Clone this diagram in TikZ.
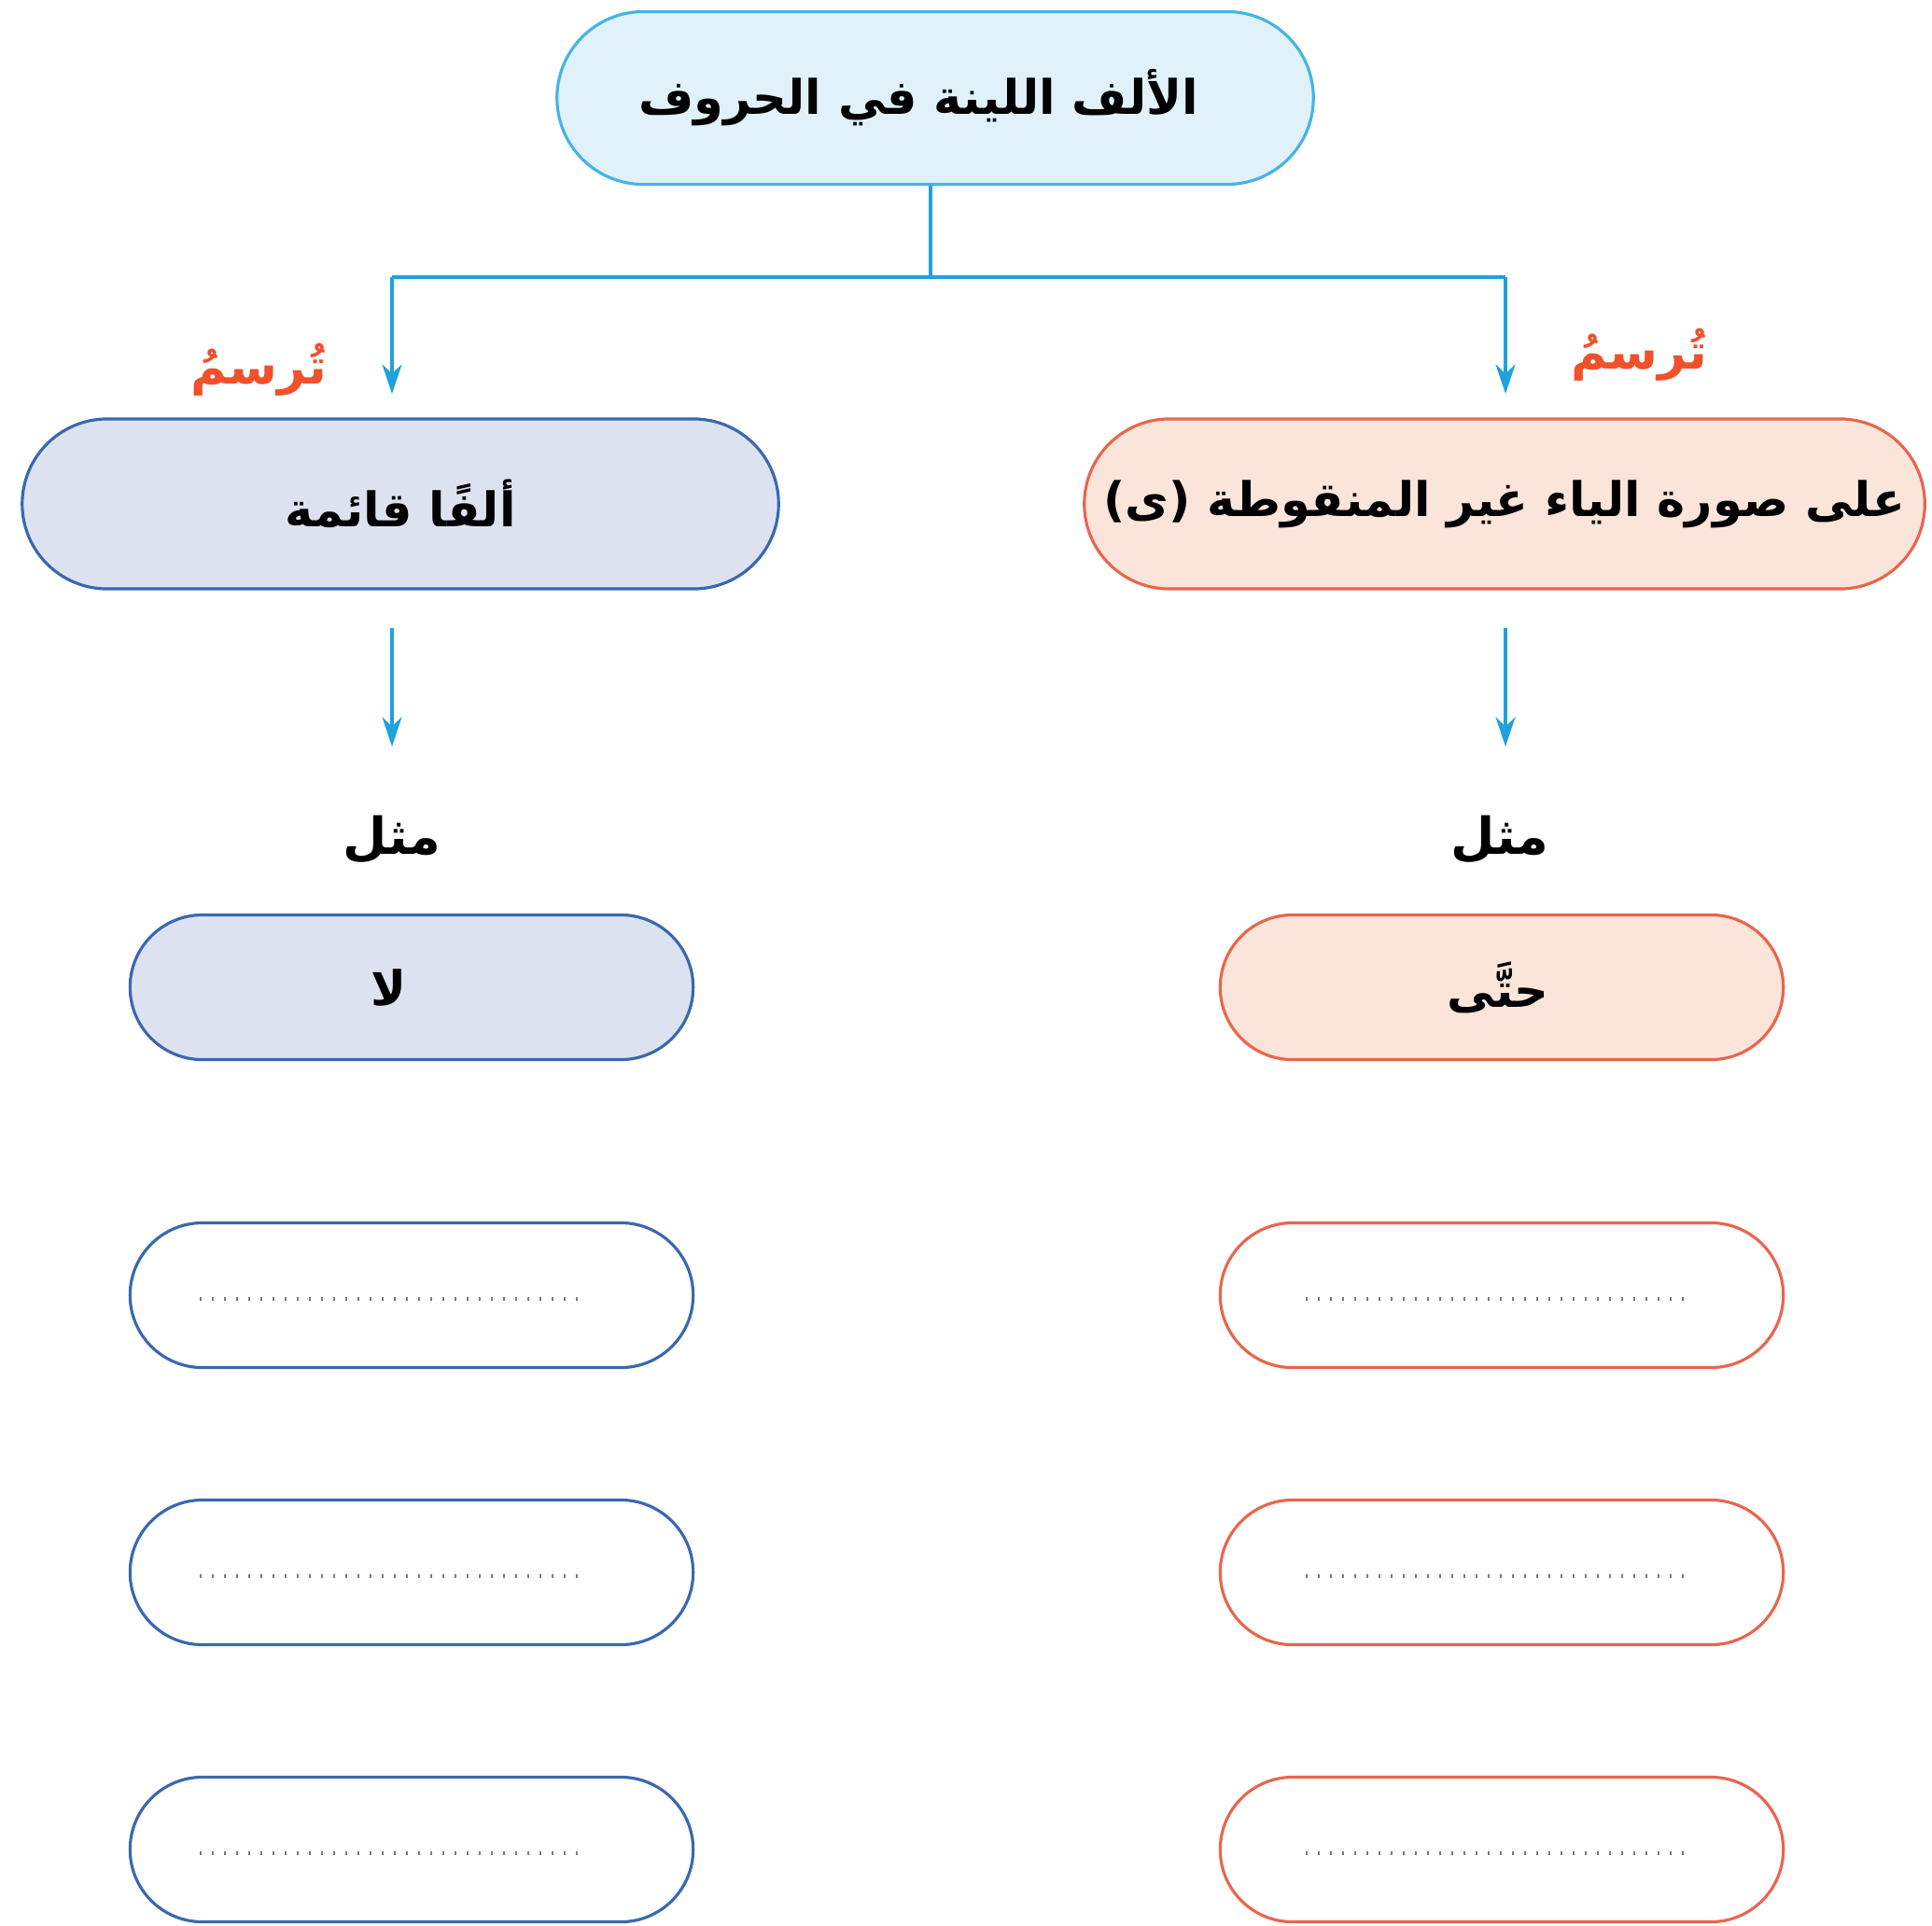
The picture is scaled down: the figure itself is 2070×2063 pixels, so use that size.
\documentclass[tikz,border=0pt]{standalone}
\usepackage{fontspec}
\usetikzlibrary{arrows.meta}
\TeXXeTstate=1
\newfontfamily\arabicfont[Script=Arabic]{DejaVu Sans}
\definecolor{topfill}{HTML}{E0F1FA}
\definecolor{topdraw}{HTML}{45B4E3}
\definecolor{conn}{HTML}{1EA1DC}
\definecolor{bluefill}{HTML}{DDE2F0}
\definecolor{bluedraw}{HTML}{3A68AE}
\definecolor{peachfill}{HTML}{FBE4DA}
\definecolor{peachdraw}{HTML}{E8664E}
\definecolor{redtext}{HTML}{F0502A}
\definecolor{dotgray}{HTML}{7A7A7A}
\newcommand{\ar}[1]{{\arabicfont\bfseries\beginR #1\endR}}
\newcommand{\padr}[1]{\hbox to #1{}}
\begin{document}
\begin{tikzpicture}[x=0.01cm,y=-0.01cm,
  pill/.style={rectangle, inner sep=0pt, line width=0.9pt,
    font=\fontsize{14.5}{17}\selectfont},
  toppill/.style={pill, fill=topfill, draw=topdraw, minimum width=8.1cm, minimum height=1.85cm, rounded corners=0.925cm},
  bluepill/.style={pill, fill=bluefill, draw=bluedraw},
  peachpill/.style={pill, fill=peachfill, draw=peachdraw},
  bigpill/.style={minimum width=#1, minimum height=1.82cm, rounded corners=0.91cm},
  smallpill/.style={minimum width=6.03cm, minimum height=1.55cm, rounded corners=0.775cm},
  emptyblue/.style={pill, fill=white, draw=bluedraw, smallpill},
  emptypeach/.style={pill, fill=white, draw=peachdraw, smallpill},
  conline/.style={draw=conn, line width=0.9pt},
  conarrow/.style={conline, -{Stealth[length=9pt,width=6pt]}},
  redlabel/.style={text=redtext, font=\fontsize{15}{18}\selectfont},
  mithl/.style={font=\fontsize{15.5}{18}\selectfont},
  dotline/.style={draw=dotgray, line width=1.1pt, dash pattern=on 0.6pt off 3.1pt}
]
\useasboundingbox[fill=white] (0,0) rectangle (2070,2063);

% top
\node[toppill] (top) at (1002,105) {\ar{الألف اللينة في الحروف}\padr{0.36cm}};
\coordinate (j) at (997,297);
\coordinate (jl) at (420,297);
\coordinate (jr) at (1613,297);
\coordinate (tl) at (420,422);
\coordinate (tr) at (1613,422);
\draw[conline] (top.south -| j) -- (j);
\draw[conline] (jl) -- (jr);
\draw[conarrow] (jl) -- (tl);
\draw[conarrow] (jr) -- (tr);

\node[redlabel] (rl) at (277,396) {\ar{تُرسمُ}};
\node[redlabel] (rr) at (1756,380) {\ar{تُرسمُ}};

% middle
\node[bluepill, bigpill=8.1cm] (lm) at (429,540) {\ar{ألفًا قائمة}};
\node[peachpill, bigpill=9.0cm] (rm) at (1612,540) {\ar{على صورة الياء غير المنقوطة (ى)}};

\coordinate (la1) at (420,673);
\coordinate (la2) at (420,800);
\coordinate (ra1) at (1613,673);
\coordinate (ra2) at (1613,800);
\draw[conarrow] (la1) -- (la2);
\draw[conarrow] (ra1) -- (ra2);

\node[mithl] (ml) at (420,900) {\ar{مثل}};
\node[mithl] (mr) at (1607,900) {\ar{مثل}};

% examples
\node[bluepill, smallpill] (exl) at (441,1058) {\ar{لا}\padr{0.5cm}};
\node[peachpill, smallpill] (exr) at (1609,1058) {\ar{حتَّى}\padr{0.08cm}};

% empty boxes
\foreach \i/\yy in {1/1388,2/1685,3/1982}{
  \node[emptyblue] (bl\i) at (441,\yy) {};
  \node[emptypeach] (br\i) at (1609,\yy) {};
  \draw[dotline] ([xshift=-2.27cm,yshift=-0.04cm]bl\i.center) -- ([xshift=1.86cm,yshift=-0.04cm]bl\i.center);
  \draw[dotline] ([xshift=-2.1cm,yshift=-0.04cm]br\i.center) -- ([xshift=2.02cm,yshift=-0.04cm]br\i.center);
}
\end{tikzpicture}
\end{document}
